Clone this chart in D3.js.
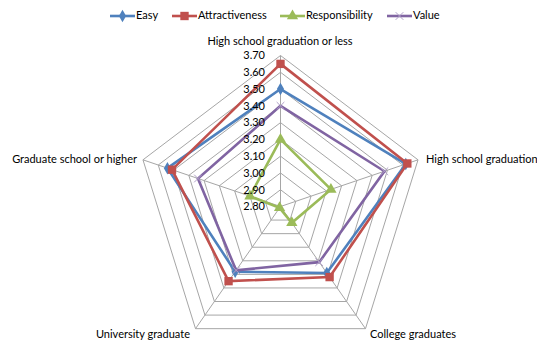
<!DOCTYPE html>
<html>
<head>
<meta charset="utf-8">
<script src="https://cdn.jsdelivr.net/npm/d3@7"></script>
<style>
  body { margin: 0; background: #fff; }
  text { font-family: Lato, "Open Sans", sans-serif; fill: #000; }
</style>
</head>
<body>
<div id="chart"></div>
<script>
// categories clockwise from top
var categories = [
  "High school graduation or less",
  "High school graduation",
  "College graduates",
  "University graduate",
  "Graduate school or higher"
];
var seriesNames = ["Easy", "Attractiveness", "Responsibility", "Value"];
var easy = [3.50, 3.62, 3.29, 3.28, 3.54];
var attractiveness = [3.65, 3.63, 3.32, 3.35, 3.51];
var responsibility = [3.20, 3.13, 2.92, 2.81, 3.00];
var value = [3.40, 3.48, 3.21, 3.27, 3.34];
var tickLabels = ["2.80", "2.90", "3.00", "3.10", "3.20", "3.30", "3.40", "3.50", "3.60", "3.70"];

var colors = ["#4F81BD", "#C0504D", "#9BBB59", "#8064A2"];
var allSeries = [easy, attractiveness, responsibility, value];

var areaWidth = 537;
var areaHeight = 345;
var cx = 280.5, cy = 206.5;
var rx = 144.6, ry = 151; // picture is a little stretched vertically

var rScale = d3.scaleLinear().domain([2.8, 3.7]).range([0, 1]);
var angleScale = d3.scaleLinear().domain([0, categories.length]).range([0, 2 * Math.PI]);

function pointAt(i, v) {
  var a = angleScale(i);
  var r = rScale(v);
  return [cx + Math.sin(a) * r * rx, cy - Math.cos(a) * r * ry];
}

var svg = d3.select("#chart").append("svg")
  .attr("width", areaWidth)
  .attr("height", areaHeight);

// grid rings
var line = d3.line();
tickLabels.slice(1).forEach(function (t) {
  var pts = categories.map(function (c, i) { return pointAt(i, +t); });
  pts.push(pts[0]);
  svg.append("path")
    .attr("d", line(pts))
    .style("fill", "none")
    .style("stroke", "#a6a6a6")
    .style("stroke-width", 1);
});

// spokes
categories.forEach(function (c, i) {
  var p = pointAt(i, 3.7);
  svg.append("line")
    .attr("x1", cx).attr("y1", cy)
    .attr("x2", p[0]).attr("y2", p[1])
    .style("stroke", "#a6a6a6")
    .style("stroke-width", 1);
});

// series
var markerSymbols = [d3.symbolDiamond, d3.symbolSquare, d3.symbolTriangle, d3.symbolX];
var markerSizes = [45, 70, 55, 40];
allSeries.forEach(function (data, s) {
  var pts = data.map(function (d, i) { return pointAt(i, d); });
  pts.push(pts[0]);
  svg.append("path")
    .attr("d", line(pts))
    .style("fill", "none")
    .style("stroke", colors[s])
    .style("stroke-width", 2.6)
    .style("stroke-linejoin", "miter");

  svg.selectAll(".m" + s)
    .data(data)
    .enter()
    .append("path")
    .attr("class", "m" + s)
    .attr("d", d3.symbol().type(markerSymbols[s]).size(markerSizes[s]))
    .attr("transform", function (d, i) {
      var p = pointAt(i, d);
      return "translate(" + p[0] + "," + p[1] + ")";
    })
    .style("fill", s == 3 ? "none" : colors[s])
    .style("stroke", s == 3 ? "#b0a0c8" : "none")
    .style("stroke-width", 1);
});

// tick labels along top axis
svg.selectAll(".tick")
  .data(tickLabels)
  .enter()
  .append("text")
  .attr("class", "tick")
  .text(function (d) { return d; })
  .attr("x", 265)
  .attr("y", function (d) { return pointAt(0, +d)[1] + 1; })
  .attr("text-anchor", "end")
  .attr("dominant-baseline", "middle")
  .style("font-size", "11px");

// category labels
var labelPos = [
  { x: 280, y: 42, anchor: "middle" },
  { x: 426, y: 160, anchor: "start" },
  { x: 370, y: 335, anchor: "start" },
  { x: 190, y: 335, anchor: "end" },
  { x: 137, y: 160, anchor: "end" }
];
categories.forEach(function (c, i) {
  svg.append("text")
    .text(c)
    .attr("x", labelPos[i].x)
    .attr("y", labelPos[i].y)
    .attr("text-anchor", labelPos[i].anchor)
    .attr("dominant-baseline", "middle")
    .style("font-size", "11px");
});

// legend
var legendX = [110, 172, 280, 387];
seriesNames.forEach(function (n, s) {
  var g = svg.append("g").attr("transform", "translate(" + legendX[s] + ",16)");
  g.append("line")
    .attr("x1", 0).attr("x2", 25)
    .style("stroke", colors[s])
    .style("stroke-width", 2.6);
  g.append("path")
    .attr("d", d3.symbol().type(markerSymbols[s]).size(markerSizes[s]))
    .attr("transform", "translate(12.5,0)")
    .style("fill", s == 3 ? "none" : colors[s])
    .style("stroke", s == 3 ? "#b0a0c8" : "none");
  g.append("text")
    .text(n)
    .attr("x", 26)
    .attr("y", 0)
    .attr("dominant-baseline", "middle")
    .style("font-size", "11px");
});
</script>
</body>
</html>
